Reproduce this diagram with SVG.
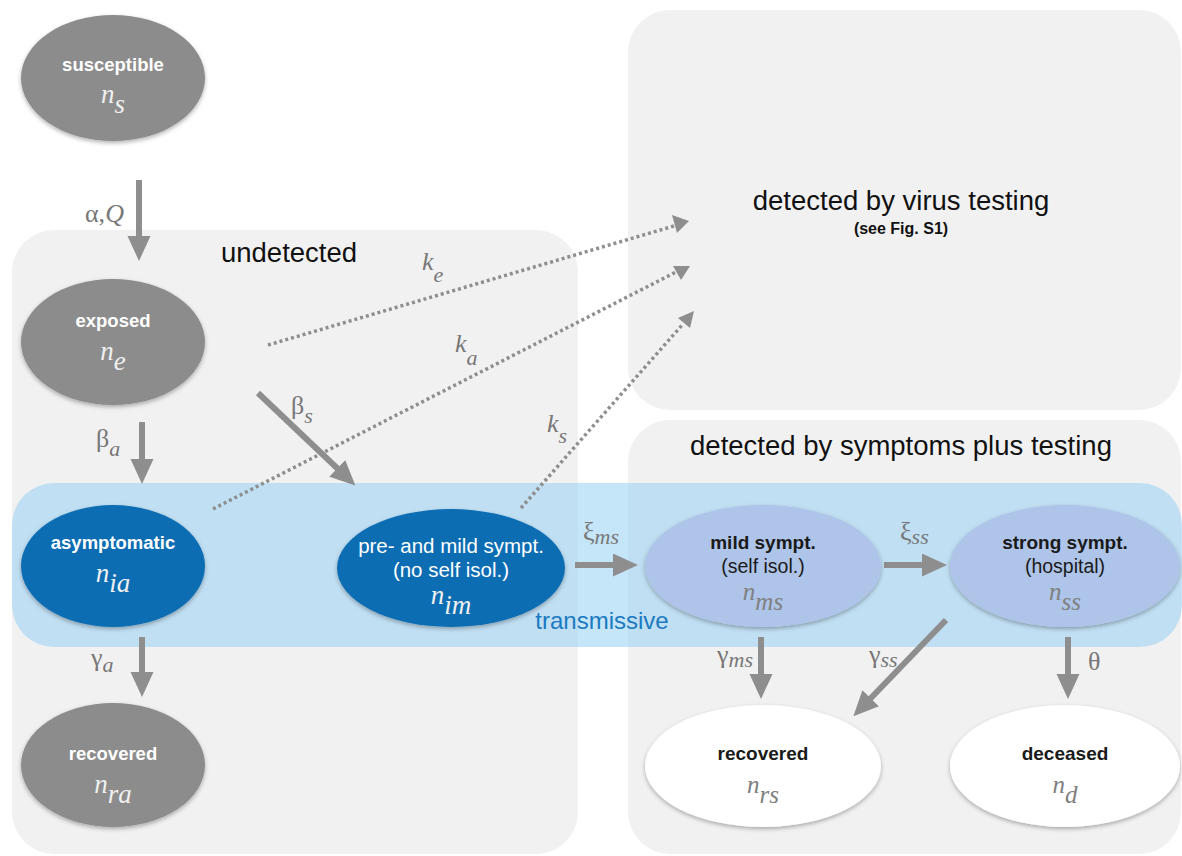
<svg xmlns="http://www.w3.org/2000/svg" width="1182" height="856" viewBox="0 0 1182 856">
<defs>
<style>
.box{fill:#f2f1f2}
.band{fill:#9fd3f3;fill-opacity:0.6}
.gray{fill:#8c8c8c}
.blue{fill:#0c6db3}
.light{fill:#aec4e9}
.white{fill:#ffffff}
.lbl{font-family:"Liberation Sans",Arial,sans-serif;text-anchor:middle}
.wb{fill:#ffffff;font-weight:bold;font-size:18.5px}
.wr{fill:#ffffff;font-size:20.5px}
.kb{fill:#1a1a1a;font-weight:bold;font-size:19px}
.kr{fill:#1a1a1a;font-size:19.5px}
.title{fill:#111;font-size:27.5px}
.math{font-family:"Liberation Serif","Times New Roman",serif;font-style:italic;font-size:27px;text-anchor:middle}
.mw{fill:#f0f0f0}
.mg{fill:#808080}
.greek{font-family:"Liberation Serif","Times New Roman",serif;font-size:26px;fill:#777}
.sub{font-style:italic}
.arr{stroke:#8e8e8e;stroke-width:6;fill:none;marker-end:url(#ah)}
.dot{stroke:#8e8e8e;stroke-width:3.5;fill:none;stroke-dasharray:3 3}
.dh{fill:#8e8e8e}
</style>
<marker id="ah" markerUnits="userSpaceOnUse" markerWidth="27" markerHeight="24" refX="1" refY="11.5" orient="auto">
<path d="M0,0 L25,11.5 L0,23 z" fill="#8e8e8e"/>
</marker>
<filter id="sh" x="-10%" y="-10%" width="120%" height="130%">
<feDropShadow dx="0" dy="2" stdDeviation="2" flood-color="#000" flood-opacity="0.3"/>
</filter>
</defs>
<rect width="1182" height="856" fill="#ffffff"/>
<g id="regions">
<rect class="box" x="12" y="230" width="566" height="624" rx="42"/>
<rect class="box" x="628" y="10" width="553" height="400" rx="42"/>
<rect class="box" x="628" y="420" width="553" height="434" rx="42"/>
<rect class="band" x="12" y="483" width="1170" height="164" rx="42"/>
<text class="lbl title" x="289" y="262">undetected</text>
<text class="lbl title" x="901" y="210">detected by virus testing</text>
<text class="lbl" x="901" y="234" style="font-size:16px;font-weight:bold;fill:#111">(see Fig. S1)</text>
<text class="lbl title" x="901" y="455">detected by symptoms plus testing</text>
<text class="lbl" x="602" y="629" style="font-size:24px;fill:#1b7ac0">transmissive</text>
</g>
<g id="connectors">
<line class="arr" x1="139" y1="180" x2="139" y2="237"/>
<line class="arr" x1="142" y1="422" x2="142" y2="460"/>
<line class="arr" x1="258" y1="393" x2="338" y2="469"/>
<line class="arr" x1="142" y1="637" x2="142" y2="673"/>
<line class="arr" x1="575" y1="565" x2="614" y2="565"/>
<line class="arr" x1="884" y1="565" x2="923" y2="565"/>
<line class="arr" x1="761" y1="637" x2="761" y2="675"/>
<line class="arr" x1="946" y1="620" x2="870" y2="699"/>
<line class="arr" x1="1068" y1="637" x2="1068" y2="675"/>
<line class="dot" x1="268" y1="345" x2="674" y2="226"/>
<polygon class="dh" points="672,215 689,221 677,233"/>
<line class="dot" x1="213" y1="509" x2="676" y2="272"/>
<polygon class="dh" points="673,266 690,266 681,280"/>
<line class="dot" x1="521" y1="508" x2="683" y2="324"/>
<polygon class="dh" points="678,318 694,311 690,328"/>
<text class="greek" x="85" y="222">α,<tspan font-style="italic">Q</tspan></text>
<text class="greek" x="96" y="447">β<tspan class="sub" dy="9" font-size="22">a</tspan></text>
<text class="greek" x="291" y="414">β<tspan class="sub" dy="9" font-size="22">s</tspan></text>
<text class="greek" x="91" y="666">γ<tspan class="sub" dy="6" font-size="22">a</tspan></text>
<text class="greek" x="583" y="540">ξ<tspan class="sub" dy="4" font-size="22">ms</tspan></text>
<text class="greek" x="900" y="540">ξ<tspan class="sub" dy="4" font-size="22">ss</tspan></text>
<text class="greek" x="717" y="663">γ<tspan class="sub" dy="4" font-size="22">ms</tspan></text>
<text class="greek" x="869" y="663">γ<tspan class="sub" dy="4" font-size="22">ss</tspan></text>
<text class="greek" x="1088" y="670">θ</text>
<text class="greek" x="422" y="270"><tspan font-style="italic">k</tspan><tspan class="sub" dy="12" font-size="22">e</tspan></text>
<text class="greek" x="455" y="352"><tspan font-style="italic">k</tspan><tspan class="sub" dy="13" font-size="22">a</tspan></text>
<text class="greek" x="547" y="432"><tspan font-style="italic">k</tspan><tspan class="sub" dy="11" font-size="22">s</tspan></text>
</g>
<g id="susceptible">
<ellipse class="gray" cx="113" cy="78" rx="92" ry="63" filter="url(#sh)"/>
<text class="lbl wb" x="113" y="71">susceptible</text>
<text class="math mw" x="113" y="103">n<tspan dy="10">s</tspan></text>
</g>
<g id="exposed">
<ellipse class="gray" cx="113" cy="342" rx="92" ry="63" filter="url(#sh)"/>
<text class="lbl wb" x="113" y="327">exposed</text>
<text class="math mw" x="113" y="360">n<tspan dy="10">e</tspan></text>
</g>
<g id="asymptomatic">
<ellipse class="blue" cx="113" cy="566" rx="92" ry="61" filter="url(#sh)"/>
<text class="lbl wb" x="113" y="549">asymptomatic</text>
<text class="math mw" x="113" y="582">n<tspan dy="10">ia</tspan></text>
</g>
<g id="pre_mild">
<ellipse class="blue" cx="451" cy="568" rx="114" ry="59" filter="url(#sh)"/>
<text class="lbl wr" x="451" y="553">pre- and mild sympt.</text>
<text class="lbl wr" x="451" y="577">(no self isol.)</text>
<text class="math mw" x="451" y="604">n<tspan dy="10">im</tspan></text>
</g>
<g id="mild">
<ellipse class="light" cx="763" cy="566" rx="118" ry="61" filter="url(#sh)"/>
<text class="lbl kb" x="763" y="549">mild sympt.</text>
<text class="lbl kr" x="763" y="573">(self isol.)</text>
<text class="math mg" x="763" y="600" style="font-size:25px">n<tspan dy="10">ms</tspan></text>
</g>
<g id="strong">
<ellipse class="light" cx="1065" cy="566" rx="115" ry="61" filter="url(#sh)"/>
<text class="lbl kb" x="1065" y="549">strong sympt.</text>
<text class="lbl kr" x="1065" y="573">(hospital)</text>
<text class="math mg" x="1065" y="600" style="font-size:25px">n<tspan dy="10">ss</tspan></text>
</g>
<g id="recovered_a">
<ellipse class="gray" cx="113" cy="765" rx="92" ry="62" filter="url(#sh)"/>
<text class="lbl wb" x="113" y="760">recovered</text>
<text class="math mw" x="113" y="793">n<tspan dy="10">ra</tspan></text>
</g>
<g id="recovered_s">
<ellipse class="white" cx="763" cy="766" rx="118" ry="61" filter="url(#sh)"/>
<text class="lbl kb" x="763" y="760">recovered</text>
<text class="math mg" x="763" y="793" style="font-size:25px">n<tspan dy="10">rs</tspan></text>
</g>
<g id="deceased">
<ellipse class="white" cx="1065" cy="766" rx="115" ry="61" filter="url(#sh)"/>
<text class="lbl kb" x="1065" y="760">deceased</text>
<text class="math mg" x="1065" y="793" style="font-size:25px">n<tspan dy="10">d</tspan></text>
</g>
</svg>
